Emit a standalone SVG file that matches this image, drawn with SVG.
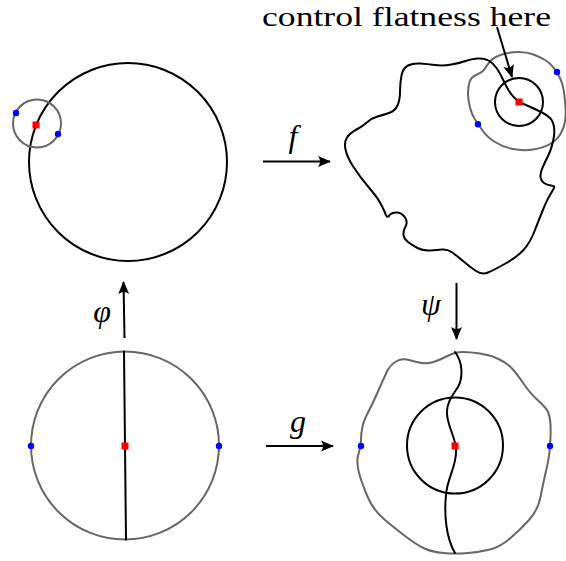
<svg xmlns="http://www.w3.org/2000/svg" width="566" height="561" viewBox="0 0 566 561">
<style>
.blk{fill:none;stroke:#000;stroke-width:2;stroke-linejoin:round;stroke-linecap:round}
.gry{fill:none;stroke:#676767;stroke-width:2;stroke-linejoin:round}
.arr{fill:none;stroke:#000;stroke-width:2;marker-end:url(#ah)}
.pt{fill:#0000ff}
.ctr{fill:#ff0000}
.lbl{font-family:"Liberation Serif",serif;font-style:italic;font-size:32px;fill:#000;text-anchor:middle}
.note{font-family:"Liberation Serif",serif;font-size:28px;fill:#000}
</style>
<defs>
<marker id="ah" markerUnits="userSpaceOnUse" markerWidth="18" markerHeight="14" viewBox="-14 -7 16 14" refX="0" refY="0" orient="auto">
<path d="M1,0 L-12,-5.5 Q-8,0 -12,5.5 Z" fill="#000"/>
</marker>
</defs>
<rect width="566" height="561" fill="#fff"/>

<g id="top-left">
<circle class="blk" cx="128" cy="162" r="99"/>
<circle class="gry" cx="37" cy="123.5" r="24"/>
<rect class="ctr" x="32.5" y="121.5" width="7" height="7"/>
<circle class="pt" cx="16" cy="113" r="3.2"/>
<circle class="pt" cx="58" cy="134" r="3.2"/>
</g>

<g id="top-right">
<path class="gry" d="M502,54.5 Q510,52 518.5,52 Q527,52 533.5,54.5 Q540,57 545,60 Q550,63 553.5,67.5 Q557,72 560,78 Q563,84 564,92 Q565,100 565.5,107.5 Q566,115 565,121.5 Q564,128 560.5,134 Q557,140 550,144 Q543,148 533,149.5 Q523,151 513,149 Q503,147 495,142 Q487,137 482.5,130.5 Q478,124 475,119.5 Q472,115 470,107.5 Q468,100 468,93.5 Q468,87 469.5,82 Q471,77 477,74.5 Q483,72 485,68.5 Q487,65 490.5,61 Q494,57 502,54.5 Z"/>
<path class="blk" d="M519,102 Q512,96 509,91 Q506,86 503,79.5 Q500,73 496.5,68 Q493,63 488.5,60.5 Q484,58 477.5,58.5 Q471,59 465.5,61 Q460,63 451.5,64.5 Q443,66 435,65 Q427,64 420,63.5 Q413,63 408,65.5 Q403,68 401.5,75.5 Q400,83 400,91.5 Q400,100 397.5,105.5 Q395,111 389,113 Q383,115 377.5,116.5 Q372,118 367.5,122 Q363,126 356.5,129.5 Q350,133 347,137.5 Q344,142 345.5,149.5 Q347,157 353.5,167 Q360,177 368.5,187 Q377,197 380,202.5 Q383,208 385,212.5 Q387,220 390,214.5 Q393,212 397.5,212.5 Q402,213 405,217.5 Q408,222 405.5,226.5 Q403,231 403.5,235 Q404,239 408,242 Q412,245 417.5,248 Q423,251 430,250.5 Q437,250 442,249.5 Q447,249 451.5,252 Q456,255 463,261 Q470,267 476,271 Q482,275 488,272.5 Q494,270 505.5,263.5 Q517,257 523.5,250 Q530,243 535,230 Q540,217 543.5,208.5 Q547,200 550,195 Q553,190 554,188 Q555,186 551,185.5 Q547,185 544,183 Q541,181 540.5,177 Q540,173 543,166.5 Q546,160 548.5,155 Q551,150 553,141.5 Q555,133 554,127 Q553,121 550,118 Q547,115 542,112.5 Q537,110 531.5,107.5 Q526,105 519,102 Z"/>
<circle class="blk" cx="519" cy="102" r="24"/>
<rect class="ctr" x="515.5" y="98.5" width="7" height="7"/>
<circle class="pt" cx="557" cy="72" r="3.2"/>
<circle class="pt" cx="478" cy="124.3" r="3.2"/>
</g>

<g id="bottom-left">
<circle class="gry" cx="125" cy="445.5" r="94"/>
<line class="blk" x1="124" y1="351.5" x2="126" y2="539.5"/>
<rect class="ctr" x="121.5" y="442.5" width="7" height="7"/>
<circle class="pt" cx="31" cy="446" r="3.2"/>
<circle class="pt" cx="219" cy="446" r="3.2"/>
</g>

<g id="bottom-right">
<path class="gry" d="M462.5,352 Q455,352 447.5,356 Q440,360 433.5,362 Q427,364 421.5,363 Q416,362 409,360 Q402,358 396,361.5 Q390,365 386.5,372.5 Q383,380 378,391.5 Q373,403 368.5,411.5 Q364,420 362.5,426.5 Q361,433 361,439.5 Q361,446 359,452 Q357,458 357.5,464 Q358,470 360,476.5 Q362,483 367.5,496.5 Q373,510 385,520 Q397,530 407,537.5 Q417,545 424.5,548.5 Q432,552 443.5,553 Q455,554 467.5,553 Q480,552 490,549.5 Q500,547 510,538.5 Q520,530 529,520 Q538,510 540.5,497 Q543,484 546,471 Q549,458 549.5,452 Q550,446 550.5,436.5 Q551,427 550,419.5 Q549,412 545.5,408 Q542,404 536,398.5 Q530,393 523.5,383.5 Q517,374 512,368.5 Q507,363 498.5,359 Q490,355 480,353.5 Q470,352 462.5,352 Z"/>
<path class="blk" d="M455,352 C463,362 463,378 458,387 C452,396 446,404 447,414 C448,428 456,438 456,450 C457,466 447,478 446,495 C444,514 446,538 455,553"/>
<circle class="blk" cx="455" cy="445.5" r="48"/>
<rect class="ctr" x="451.5" y="442.5" width="7" height="7"/>
<circle class="pt" cx="361" cy="446" r="3.2"/>
<circle class="pt" cx="550" cy="446" r="3.2"/>
</g>

<g id="connectors">
<line class="arr" x1="263" y1="161.5" x2="330" y2="161.5"/>
<line class="arr" x1="266" y1="446" x2="333" y2="446"/>
<line class="arr" x1="124.5" y1="338" x2="123.5" y2="282"/>
<line class="arr" x1="456.5" y1="283" x2="456.5" y2="339"/>
<line class="arr" x1="497" y1="27" x2="512" y2="77"/>
</g>

<g id="labels">
<text class="lbl" x="293" y="147">f</text>
<text class="lbl" x="298" y="432">g</text>
<text class="lbl" x="102" y="322">φ</text>
<text class="lbl" x="431" y="315">ψ</text>
<text class="note" x="262" y="26" textLength="289" lengthAdjust="spacingAndGlyphs">control flatness here</text>
</g>
</svg>
